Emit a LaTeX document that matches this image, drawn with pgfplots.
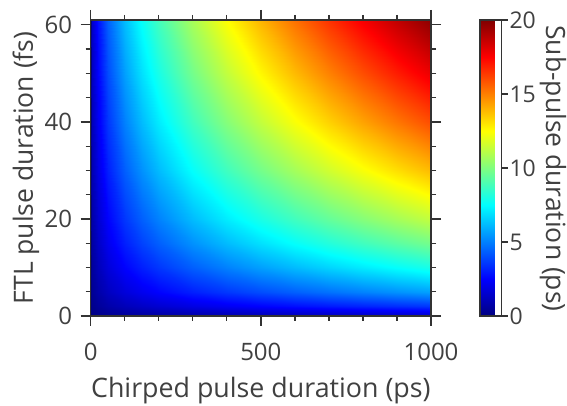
\documentclass[border=0pt]{standalone}
\usepackage{pgfplots}
\pgfplotsset{compat=1.18}
\usepackage{fontspec}
\setmainfont{Open Sans}
\definecolor{axgray}{RGB}{51,51,51}
\definecolor{txtgray}{RGB}{64,64,64}
\begin{document}
\begin{tikzpicture}
\path[use as bounding box] (0,0) rectangle (567pt,406pt);
\begin{axis}[
  at={(90.7pt,90pt)}, anchor=south west,
  scale only axis, width=340.3pt, height=296pt,
  xmin=0, xmax=1000, ymin=0, ymax=61,
  xtick={0,500,1000}, ytick={0,20,40,60},
  minor xtick={100,200,300,400,600,700,800,900},
  minor ytick={5,10,15,25,30,35,45,50,55},
  tick align=outside, tick pos=both,
  major tick length=10pt, minor tick length=5pt,
  every tick/.style={axgray, line width=1.3pt},
  every minor tick/.style={axgray, line width=1.3pt},
  axis line style={axgray, line width=1.5pt},
  axis on top,
  /pgf/number format/assume math mode=true,
  /pgf/number format/1000 sep={},
  ticklabel style={font=\fontsize{24}{24}\selectfont, text=txtgray},
  xticklabel style={yshift=-14pt},
  yticklabel style={xshift=-5pt},
  xticklabel pos=bottom, yticklabel pos=left,
  xlabel={Chirped pulse duration (ps)},
  ylabel={FTL pulse duration (fs)},
  every axis x label/.style={at={(axis description cs:0.5,-0.277)}, anchor=base,
     font=\fontsize{26.8}{26.8}\selectfont, text=txtgray},
  every axis y label/.style={at={(axis description cs:-0.1696,0.5)}, rotate=90, anchor=base,
     font=\fontsize{26.5}{26.5}\selectfont, text=txtgray},
  colormap/jet,
  point meta min=0, point meta max=20,
  colorbar,
  colorbar style={
    at={(parent axis.north east)}, anchor=north west, xshift=40.5pt,
    width=21.5pt,
    ytick={0,5,10,15,20},
    ytick pos=right, yticklabel pos=right,
    tick align=outside, major tick length=6pt,
    every tick/.style={axgray, line width=1.3pt},
    axis line style={axgray, line width=1.5pt},
    /pgf/number format/assume math mode=true,
    yticklabel style={font=\fontsize{23}{23}\selectfont, text=txtgray, xshift=-1.5pt},
  },
]
\addplot[surf, shader=interp, mesh/cols=15, point meta=explicit]
  table[x=x, y=y, meta=f] {
x y f
0 0 0
5 0 0
20 0 0
50 0 0
100 0 0
150 0 0
200 0 0
300 0 0
400 0 0
500 0 0
600 0 0
700 0 0
800 0 0
900 0 0
1000 0 0

0 0.5 0
5 0.5 0.12649
20 0.5 0.25298
50 0.5 0.4
100 0.5 0.56569
150 0.5 0.69282
200 0.5 0.8
300 0.5 0.97980
400 0.5 1.13137
500 0.5 1.26491
600 0.5 1.38564
700 0.5 1.49666
800 0.5 1.6
900 0.5 1.69706
1000 0.5 1.78885

0 2 0
5 2 0.25298
20 2 0.50596
50 2 0.8
100 2 1.13137
150 2 1.38564
200 2 1.6
300 2 1.95959
400 2 2.26274
500 2 2.52982
600 2 2.77128
700 2 2.99333
800 2 3.2
900 2 3.39411
1000 2 3.57771

0 5 0
5 5 0.4
20 5 0.8
50 5 1.26491
100 5 1.78885
150 5 2.19089
200 5 2.52982
300 5 3.09839
400 5 3.57771
500 5 4
600 5 4.38178
700 5 4.73286
800 5 5.05964
900 5 5.36656
1000 5 5.65685

0 10 0
5 10 0.56569
20 10 1.13137
50 10 1.78885
100 10 2.52982
150 10 3.09839
200 10 3.57771
300 10 4.38178
400 10 5.05964
500 10 5.65685
600 10 6.19677
700 10 6.69328
800 10 7.15542
900 10 7.58947
1000 10 8

0 15 0
5 15 0.69282
20 15 1.38564
50 15 2.19089
100 15 3.09839
150 15 3.79473
200 15 4.38178
300 15 5.36656
400 15 6.19677
500 15 6.92820
600 15 7.58947
700 15 8.19756
800 15 8.76356
900 15 9.29516
1000 15 9.79796

0 20 0
5 20 0.8
20 20 1.6
50 20 2.52982
100 20 3.57771
150 20 4.38178
200 20 5.05964
300 20 6.19677
400 20 7.15542
500 20 8
600 20 8.76356
700 20 9.46573
800 20 10.11929
900 20 10.73313
1000 20 11.31371

0 30 0
5 30 0.97980
20 30 1.95959
50 30 3.09839
100 30 4.38178
150 30 5.36656
200 30 6.19677
300 30 7.58947
400 30 8.76356
500 30 9.79796
600 30 10.73313
700 30 11.59310
800 30 12.39355
900 30 13.14534
1000 30 13.85641

0 40 0
5 40 1.13137
20 40 2.26274
50 40 3.57771
100 40 5.05964
150 40 6.19677
200 40 7.15542
300 40 8.76356
400 40 10.11929
500 40 11.31371
600 40 12.39355
700 40 13.38656
800 40 14.31083
900 40 15.17893
1000 40 16

0 50 0
5 50 1.26491
20 50 2.52982
50 50 4
100 50 5.65685
150 50 6.92820
200 50 8
300 50 9.79796
400 50 11.31371
500 50 12.64911
600 50 13.85641
700 50 14.96663
800 50 16
900 50 16.97056
1000 50 17.88854

0 61 0
5 61 1.39714
20 61 2.79428
50 61 4.41814
100 61 6.24820
150 61 7.65245
200 61 8.83629
300 61 10.82220
400 61 12.49640
500 61 13.97140
600 61 15.30490
700 61 16.53118
800 61 17.67258
900 61 18.74460
1000 61 19.75854
};
\end{axis}
\node[rotate=-90, anchor=base west, inner sep=0pt, text=txtgray,
  font=\fontsize{26.5}{26.5}\selectfont] at (546pt,381pt) {Sub-pulse duration (ps)};
\end{tikzpicture}
\end{document}
